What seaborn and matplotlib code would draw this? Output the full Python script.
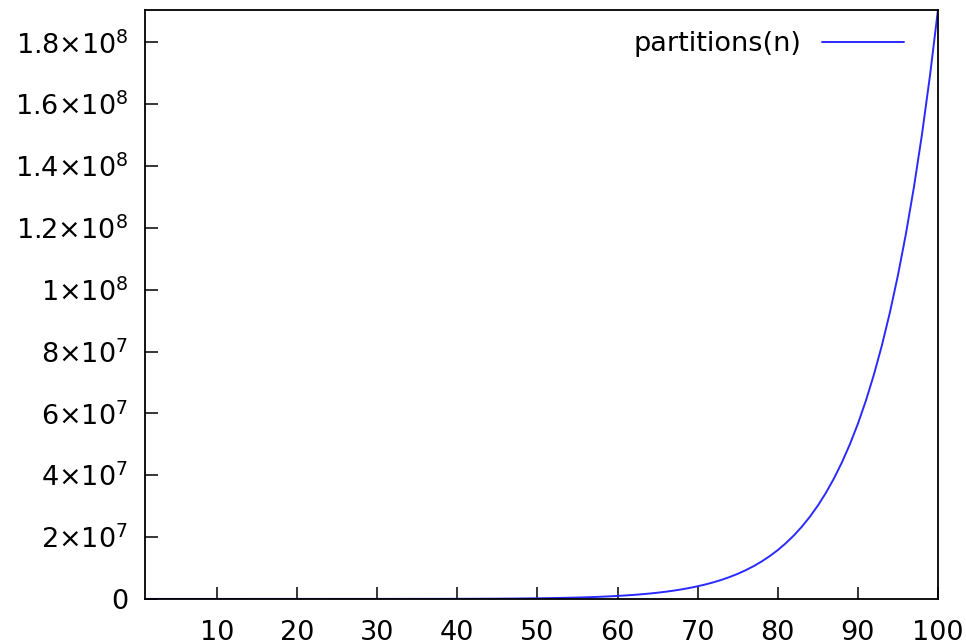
import pandas as pd
import seaborn as sns
import matplotlib.pyplot as plt

# number of partitions p(n), n = 1..100
n_values = list(range(1, 101))
partitions = [
    1, 2, 3, 5, 7, 11, 15, 22, 30, 42,
    56, 77, 101, 135, 176, 231, 297, 385, 490, 627,
    792, 1002, 1255, 1575, 1958, 2436, 3010, 3718, 4565, 5604,
    6842, 8349, 10143, 12310, 14883, 17977, 21637, 26015, 31185, 37338,
    44583, 53174, 63261, 75175, 89134, 105558, 124754, 147273, 173525, 204226,
    239943, 281589, 329931, 386155, 451276, 526823, 614154, 715220, 831820, 966467,
    1121505, 1300156, 1505499, 1741630, 2012558, 2323520, 2679689, 3087735, 3554345, 4087968,
    4697205, 5392783, 6185689, 7089500, 8118264, 9289091, 10619863, 12132164, 13848650, 15796476,
    18004327, 20506255, 23338469, 26543660, 30167357, 34262962, 38887673, 44108109, 49995925, 56634173,
    64112359, 72533807, 82010177, 92669720, 104651419, 118114304, 133230930, 150198136, 169229875, 190569292,
]

x_ticks = [10, 20, 30, 40, 50, 60, 70, 80, 90, 100]
y_ticks = [0, 2e7, 4e7, 6e7, 8e7, 1e8, 1.2e8, 1.4e8, 1.6e8, 1.8e8]
y_tick_labels = ["0", "2×10$^7$", "4×10$^7$", "6×10$^7$", "8×10$^7$",
                 "1×10$^8$", "1.2×10$^8$", "1.4×10$^8$", "1.6×10$^8$", "1.8×10$^8$"]

df = pd.DataFrame({"n": n_values, "partitions(n)": partitions})

sns.set_style("ticks")
plt.rcParams["font.family"] = ["DejaVu Sans"]
plt.rcParams["mathtext.default"] = "regular"

fig = plt.figure(figsize=(9.66, 6.44), dpi=100)
ax = fig.add_axes([0.150, 0.070, 0.821, 0.915])

sns.lineplot(data=df, x="n", y="partitions(n)", color="#2a2aff", linewidth=1.4,
             label="partitions(n)", ax=ax)

ax.set_xlim(1, 100)
ax.set_ylim(0, max(partitions))
ax.set_xticks(x_ticks)
ax.set_yticks(y_ticks)
ax.set_yticklabels(y_tick_labels)
ax.set_xlabel("")
ax.set_ylabel("")

ax.tick_params(direction="in", length=9, width=1.1, labelsize=19.5,
               colors="black", top=False, right=False)
ax.tick_params(axis="x", pad=15)
ax.tick_params(axis="y", pad=12)
for s in ax.spines.values():
    s.set_visible(True)
    s.set_color("black")
    s.set_linewidth(1.3)

leg = ax.legend(loc="upper right", bbox_to_anchor=(0.985, 1.0), frameon=False,
                markerfirst=False, fontsize=19.5, handlelength=3.05,
                borderaxespad=0.4, handletextpad=0.75)
for t in leg.get_texts():
    t.set_color("black")

plt.savefig("out.png", dpi=100)
